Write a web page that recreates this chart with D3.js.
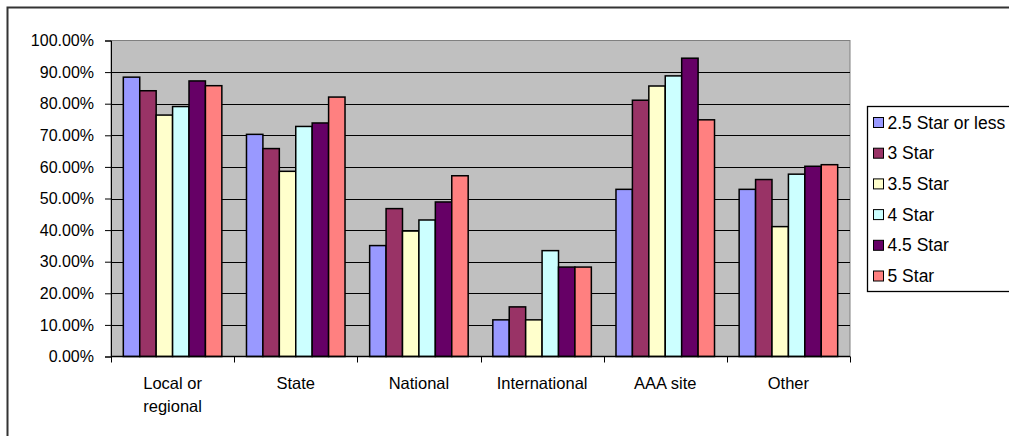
<!DOCTYPE html>
<html>
<head>
<meta charset="utf-8">
<script src="https://cdn.jsdelivr.net/npm/d3@7"></script>
<style>
  html, body { margin: 0; padding: 0; background: #fff; }
  svg { display: block; font-family: "Liberation Sans", Arial, sans-serif; }
</style>
</head>
<body>
<svg id="chart" width="1009" height="436"></svg>
<script>
// Share of each source type, by star rating
const categories = [["Local or", "regional"], ["State"], ["National"], ["International"], ["AAA site"], ["Other"]];
const seriesNames = ["2.5 Star or less", "3 Star", "3.5 Star", "4 Star", "4.5 Star", "5 Star"];
const star25 = [0.884, 0.703, 0.351, 0.116, 0.529, 0.529];
const star3  = [0.841, 0.658, 0.468, 0.157, 0.811, 0.560];
const star35 = [0.764, 0.586, 0.397, 0.116, 0.856, 0.411];
const star4  = [0.791, 0.728, 0.432, 0.335, 0.888, 0.577];
const star45 = [0.872, 0.739, 0.489, 0.283, 0.944, 0.602];
const star5  = [0.857, 0.821, 0.572, 0.283, 0.749, 0.607];
const seriesValues = [star25, star3, star35, star4, star45, star5];
const colors = ["#9999FF", "#993366", "#FFFFCC", "#CCFFFF", "#660066", "#FF8080"];
const yTicks = [0, 0.1, 0.2, 0.3, 0.4, 0.5, 0.6, 0.7, 0.8, 0.9, 1.0];

const svg = d3.select("#chart");
const plot = { left: 111, right: 850, top: 40.5, bottom: 356.5 };

// outer chart frame (top and left edges visible)
svg.append("path")
  .attr("d", `M7.5,436 V7.5 H1009`)
  .attr("fill", "none").attr("stroke", "#333").attr("stroke-width", 2);

const catKeys = categories.map((c, i) => i);
const x0 = d3.scaleBand().domain(catKeys).range([plot.left, plot.right])
  .paddingInner(0.2).paddingOuter(0.1);
const x1 = d3.scaleBand().domain(d3.range(seriesNames.length)).range([0, x0.bandwidth()]).padding(0);
const y = d3.scaleLinear().domain([0, 1]).range([plot.bottom, plot.top]);

// plot background
svg.append("rect")
  .attr("x", plot.left).attr("y", plot.top)
  .attr("width", plot.right - plot.left).attr("height", plot.bottom - plot.top)
  .attr("fill", "#C0C0C0").attr("stroke", "#808080").attr("stroke-width", 1);

// horizontal gridlines
svg.append("g").selectAll("line")
  .data(yTicks.filter(t => t > 0 && t < 1))
  .join("line")
  .attr("x1", plot.left).attr("x2", plot.right)
  .attr("y1", d => Math.round(y(d)) + 0.5).attr("y2", d => Math.round(y(d)) + 0.5)
  .attr("stroke", "#000").attr("stroke-width", 1);

// bars
const groups = svg.append("g").selectAll("g")
  .data(catKeys)
  .join("g")
  .attr("transform", i => `translate(${x0(i)},0)`);

groups.selectAll("rect")
  .data(i => seriesValues.map((vals, s) => ({ s, v: vals[i] })))
  .join("rect")
  .attr("x", d => x1(d.s))
  .attr("y", d => y(d.v))
  .attr("width", x1.bandwidth())
  .attr("height", d => plot.bottom - y(d.v))
  .attr("fill", d => colors[d.s])
  .attr("stroke", "#000").attr("stroke-width", 1.5);

// y axis
const yAxis = d3.axisLeft(y).tickValues(yTicks).tickSize(6).tickPadding(11)
  .tickFormat(d => (d * 100).toFixed(2) + "%");
const gy = svg.append("g").attr("transform", `translate(${plot.left},0)`).call(yAxis);
gy.select(".domain").attr("stroke", "#000");
gy.selectAll(".tick line").attr("stroke", "#000");
gy.selectAll(".tick text").attr("font-size", 16).attr("fill", "#000")
  .attr("font-family", "Liberation Sans, Arial, sans-serif");

// x axis baseline and category separators
const step = x0.step();
const boundaries = d3.range(categories.length + 1).map(i => plot.left + i * step);
svg.append("line")
  .attr("x1", plot.left).attr("x2", plot.right)
  .attr("y1", plot.bottom).attr("y2", plot.bottom)
  .attr("stroke", "#000").attr("stroke-width", 1.3);
svg.append("g").selectAll("line")
  .data(boundaries)
  .join("line")
  .attr("x1", d => Math.round(d) + 0.5).attr("x2", d => Math.round(d) + 0.5)
  .attr("y1", plot.bottom).attr("y2", plot.bottom + 6)
  .attr("stroke", "#000");

// category labels
const labels = svg.append("g").selectAll("text")
  .data(catKeys)
  .join("text")
  .attr("x", i => x0(i) + x0.bandwidth() / 2)
  .attr("y", 389)
  .attr("text-anchor", "middle")
  .attr("font-size", 16.5)
  .attr("fill", "#000");
labels.selectAll("tspan")
  .data(i => categories[i])
  .join("tspan")
  .attr("x", function () { return d3.select(this.parentNode).attr("x"); })
  .attr("dy", (d, k) => k === 0 ? 0 : 23)
  .text(d => d);

// legend
const legend = svg.append("g").attr("transform", "translate(867.5,106.5)");
legend.append("rect")
  .attr("width", 160).attr("height", 185)
  .attr("fill", "#fff").attr("stroke", "#000").attr("stroke-width", 1.3);
const items = legend.selectAll("g.item")
  .data(seriesNames)
  .join("g").attr("class", "item")
  .attr("transform", (d, i) => `translate(6,${16 + i * 30.7})`);
items.append("rect")
  .attr("x", 0).attr("y", -5).attr("width", 10).attr("height", 10)
  .attr("fill", (d, i) => colors[i]).attr("stroke", "#000").attr("stroke-width", 1);
items.append("text")
  .attr("x", 14).attr("y", 6)
  .attr("font-size", 17.5).attr("fill", "#000")
  .text(d => d);
</script>
</body>
</html>
